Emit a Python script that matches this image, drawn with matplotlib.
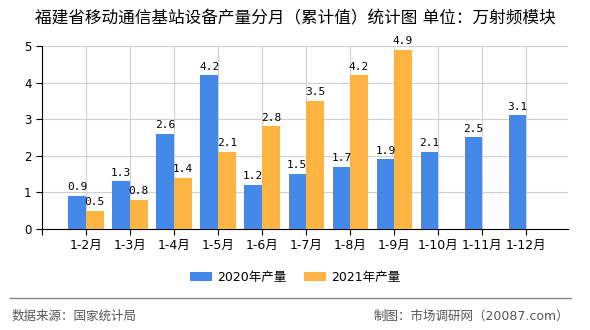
import matplotlib
matplotlib.use('Agg')
import matplotlib.pyplot as plt
import numpy as np

plt.rcParams['font.family'] = ['DejaVu Sans', 'Noto Sans CJK SC']

months = ['1-2月', '1-3月', '1-4月', '1-5月', '1-6月', '1-7月', '1-8月', '1-9月', '1-10月', '1-11月', '1-12月']
prod_2020 = [0.9, 1.3, 2.6, 4.2, 1.2, 1.5, 1.7, 1.9, 2.1, 2.5, 3.1]
prod_2021 = [0.5, 0.8, 1.4, 2.1, 2.8, 3.5, 4.2, 4.9]

blue = '#4389EA'
orange = '#FDB443'

fig = plt.figure(figsize=(5.9, 3.3), dpi=100)
ax = fig.add_axes([0.071, 0.306, 0.892, 0.555])

x = np.arange(len(months))
w = 0.4
ax.bar(x - w / 2, prod_2020, w, color=blue, label='2020年产量', zorder=3)
x21 = np.arange(len(prod_2021))
ax.bar(x21 + w / 2, prod_2021, w, color=orange, label='2021年产量', zorder=3)

mono = ['DejaVu Sans Mono', 'Noto Sans CJK SC']
for xi, v in zip(x, prod_2020):
    ax.text(xi - w / 2, v + 0.1, f'{v}', ha='center', va='bottom', fontsize=8, family=mono, zorder=4)
for xi, v in zip(x21, prod_2021):
    ax.text(xi + w / 2, v + 0.1, f'{v}', ha='center', va='bottom', fontsize=8, family=mono, zorder=4)

ax.set_xlim(-1, 10.95)
ax.set_ylim(0, 5)
ax.set_xticks(np.arange(-1, 11))
ax.set_xticklabels([''] + months, fontsize=9)
ax.set_yticks(range(6))
ax.tick_params(axis='y', labelsize=8.5, length=4)
ax.tick_params(axis='x', length=4)
ax.grid(True, color='#d0d0d0', linewidth=0.8, zorder=0)
for s in ['top', 'right']:
    ax.spines[s].set_visible(False)

fig.legend(loc='center', bbox_to_anchor=(0.5, 0.16), ncol=2, frameon=False,
           fontsize=9, handlelength=1.8, handleheight=0.7, handletextpad=0.4,
           columnspacing=1.4)

fig.text(0.5, 0.945, '福建省移动通信基站设备产量分月（累计值）统计图 单位：万射频模块',
         ha='center', va='center', fontsize=12)
fig.add_artist(plt.Line2D([0.017, 0.968], [0.097, 0.097], color='#888888', linewidth=1))
fig.text(0.02, 0.042, '数据来源：国家统计局', ha='left', va='center', fontsize=9, color='#555555')
fig.text(0.965, 0.042, '制图：市场调研网（20087.com）', ha='right', va='center', fontsize=9, color='#555555')

fig.savefig('out.png', dpi=100)
